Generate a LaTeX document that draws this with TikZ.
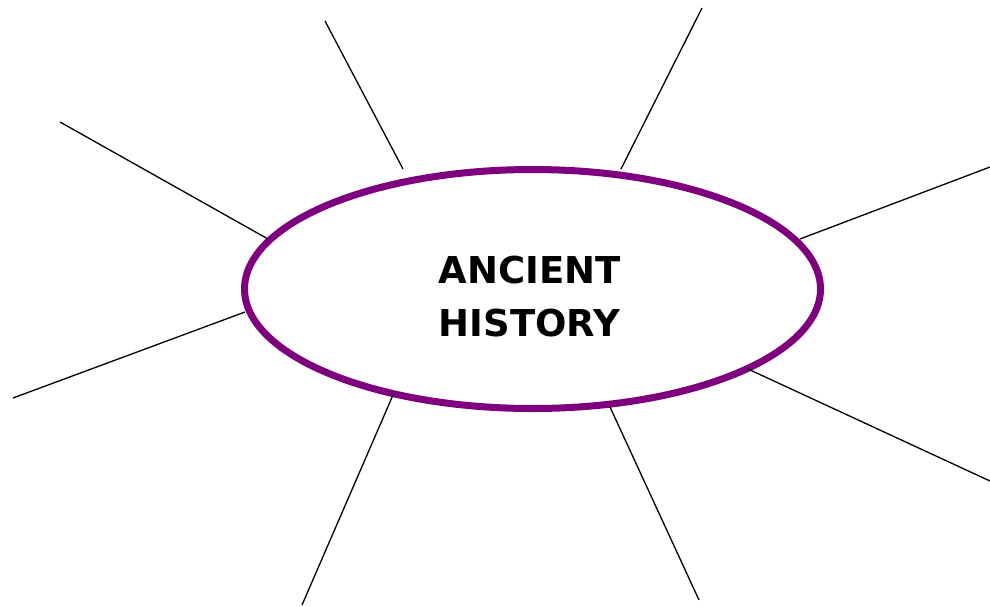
\documentclass[tikz,border=0pt]{standalone}
\usepackage{fontspec}
\setmainfont{DejaVu Sans}
\usetikzlibrary{shapes.geometric}
\definecolor{hubpurple}{HTML}{7F007F}
\begin{document}
\begin{tikzpicture}[x=1pt,y=-1pt,
  spoke/.style={draw=black,line width=1.3pt},
  hubshape/.style={draw=hubpurple,line width=7pt,ellipse,inner sep=0pt,minimum width=576pt,minimum height=239pt},
  hubtext/.style={align=center,font=\bfseries\fontsize{37}{53}\selectfont,text=black}]
\useasboundingbox (0,0) rectangle (990,606);
\node[hubshape] (hub) at (532.5,289) {};
\node[hubtext] (title) at (529.5,297) {ANCIENT\\HISTORY};
\coordinate (o1) at (325,21);  \coordinate (i1) at (403,169);
\coordinate (o2) at (702,8);   \coordinate (i2) at (621,169);
\coordinate (o3) at (60,122);  \coordinate (i3) at (268,239);
\coordinate (o4) at (990,167); \coordinate (i4) at (800,239);
\coordinate (o5) at (13,398);  \coordinate (i5) at (245,312);
\coordinate (o6) at (990,481); \coordinate (i6) at (748,369);
\coordinate (o7) at (302,605); \coordinate (i7) at (393,395);
\coordinate (o8) at (699,600); \coordinate (i8) at (610,407);
\foreach \k in {1,...,8} {\draw[spoke] (o\k) -- (i\k);}
\end{tikzpicture}
\end{document}
